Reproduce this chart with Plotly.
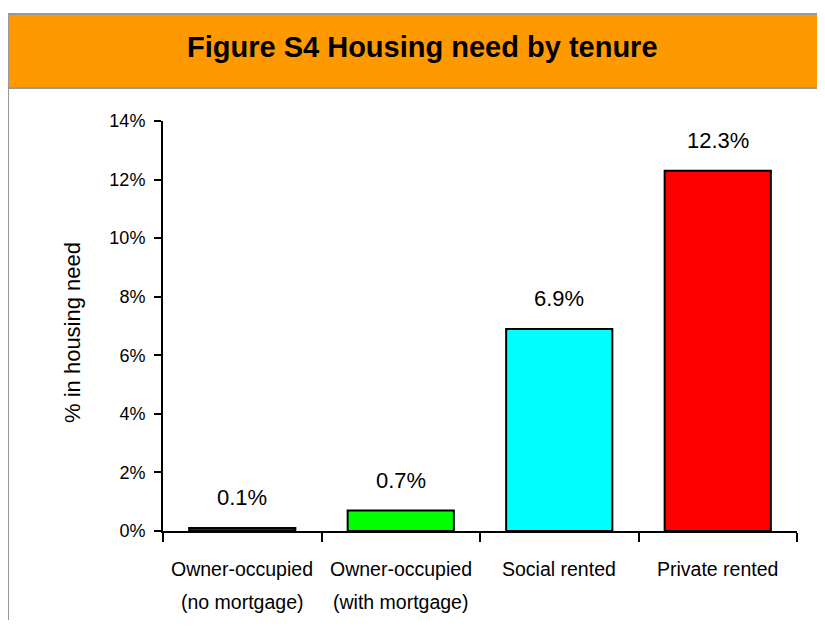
import plotly.graph_objects as go

categories = ["Owner-occupied\n(no mortgage)", "Owner-occupied\n(with mortgage)", "Social rented", "Private rented"]
values = [0.1, 0.7, 6.9, 12.3]
bar_colors = ["#333300", "#00FF00", "#00FFFF", "#FF0000"]
y_ticks = [0, 2, 4, 6, 8, 10, 12, 14]
y_tick_labels = [f"{v}%" for v in y_ticks]
title_text = "Figure S4 Housing need by tenure"
y_title = "% in housing need"

# page body margin offset (browser default); keep figure inside viewport to avoid scrollbars
OFF = 8
W, H = 825 - 2 * OFF, 628 - 2 * OFF
pw, ph = 634, 410
L, T = 163 - OFF, 121 - OFF
R, B = W - L - pw, H - T - ph

def px_x(x):
    return (x - OFF - L) / pw

def px_y(y):
    return (T + ph - (y - OFF)) / ph

FONT = "Liberation Sans, Arial, sans-serif"

fig = go.Figure()
fig.add_trace(go.Bar(
    x=categories, y=values,
    marker=dict(color=bar_colors, line=dict(color="black", width=2)),
    width=0.67, hoverinfo="skip",
))

annotations = []
for c, v in zip(categories, values):
    annotations.append(dict(
        x=c, y=v, xref="x", yref="y", text=f"{v:.1f}%", showarrow=False,
        yanchor="bottom", yshift=16, font=dict(family=FONT, size=22, color="black"),
    ))
    for i, line in enumerate(c.split("\n")):
        annotations.append(dict(
            x=c, xref="x", yref="paper", y=px_y(569 + 33 * i), text=line,
            showarrow=False, yanchor="middle", font=dict(family=FONT, size=19.5, color="black"),
        ))

annotations.append(dict(
    x=px_x(72), y=px_y(333), xref="paper", yref="paper", text=y_title,
    textangle=-90, showarrow=False, xanchor="center", yanchor="middle",
    font=dict(family=FONT, size=22, color="black"),
))
annotations.append(dict(
    x=px_x(422.5), y=px_y(47), xref="paper", yref="paper", text=f"<b>{title_text}</b>",
    showarrow=False, xanchor="center", yanchor="middle",
    font=dict(family=FONT, size=29, color="black"),
))

shapes = [
    dict(type="rect", xref="paper", yref="paper", x0=px_x(8), x1=px_x(840),
         y0=px_y(88), y1=px_y(14), fillcolor="#FF9900",
         line=dict(color="#999999", width=2), layer="below"),
    dict(type="line", xref="paper", yref="paper", x0=px_x(8), x1=px_x(8),
         y0=px_y(88), y1=px_y(660), line=dict(color="#999999", width=2)),
]

fig.update_layout(
    width=W, height=H,
    margin=dict(l=L, r=R, t=T, b=B),
    paper_bgcolor="white", plot_bgcolor="white",
    showlegend=False, bargap=0.33,
    annotations=annotations, shapes=shapes,
    font=dict(family=FONT, color="black"),
    xaxis=dict(
        showline=True, linecolor="black", linewidth=2,
        ticks="outside", tickson="boundaries", ticklen=9, tickwidth=2, tickcolor="black",
        showticklabels=False, showgrid=False, zeroline=False, fixedrange=True,
    ),
    yaxis=dict(
        range=[0, 14], tickvals=y_ticks, ticktext=y_tick_labels,
        showline=True, linecolor="black", linewidth=2,
        ticks="outside", ticklen=7, tickwidth=2, tickcolor="black",
        tickfont=dict(family=FONT, size=18, color="black"),
        ticklabelstandoff=5,
        showgrid=False, zeroline=False, fixedrange=True,
    ),
)

fig.write_html("out.html")
